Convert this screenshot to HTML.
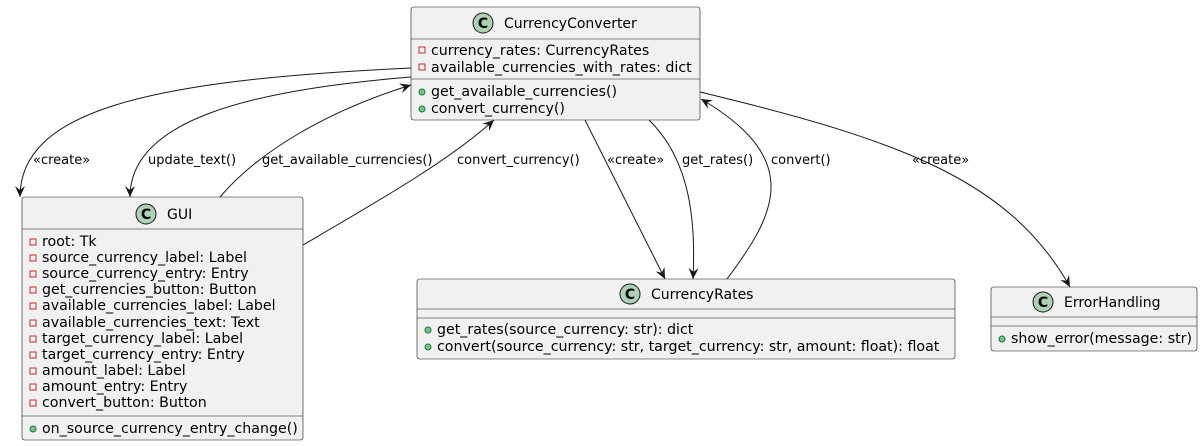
<!DOCTYPE html>
<html><head><meta charset="utf-8"><style>
html,body{margin:0;padding:0;background:#fff;}
svg{display:block;}
text{font-family:"DejaVu Sans","Liberation Sans",sans-serif;fill:#000;}
.t{font-size:14px;}
.m{font-size:14.2px;}
.l{font-size:13px;}
.box{fill:#f1f1f1;stroke:#181818;stroke-width:0.6;}
.div{stroke:#181818;stroke-width:0.6;}
.e{fill:none;stroke:#181818;stroke-width:1;}
.ci{fill:#add1b2;stroke:#181818;stroke-width:1;}
.priv{fill:none;stroke:#c82930;stroke-width:1;}
.pub{fill:#84be84;stroke:#038048;stroke-width:1;}
</style></head><body>
<svg width="1204" height="446" viewBox="0 0 1204 446" xmlns="http://www.w3.org/2000/svg">
<defs>
<marker id="a" viewBox="0 0 12 10" refX="11" refY="5" markerWidth="12" markerHeight="10" markerUnits="userSpaceOnUse" orient="auto">
<path d="M0,0 L11,5 L0,10 L4,5 Z" fill="#181818"/>
</marker>
</defs>

<path class="e" marker-end="url(#a)" d="M411,68 C150,80 20,110 20,197"/>
<path class="e" marker-end="url(#a)" d="M411,77 C250,90 130,120 130,197"/>
<path class="e" marker-end="url(#a)" d="M220,197 C260,150 330,110 411,85"/>
<path class="e" marker-end="url(#a)" d="M303,245 C380,200 450,160 494,120"/>
<path class="e" marker-end="url(#a)" d="M585,120 L665,279"/>
<path class="e" marker-end="url(#a)" d="M649,120 C690,160 696,220 693,279"/>
<path class="e" marker-end="url(#a)" d="M727,279 C775,215 805,160 701,99"/>
<path class="e" marker-end="url(#a)" d="M700,92 C900,140 1010,180 1070,287"/>

<text class="l" x="33" y="164">«create»</text>
<text class="l" x="148" y="164">update_text()</text>
<text class="l" x="262" y="164">get_available_currencies()</text>
<text class="l" x="457" y="164">convert_currency()</text>
<text class="l" x="607" y="164">«create»</text>
<text class="l" x="682" y="164">get_rates()</text>
<text class="l" x="771" y="164">convert()</text>
<text class="l" x="912" y="164">«create»</text>

<rect class="box" x="411" y="7" width="289" height="113" rx="2.5"/>
<line class="div" x1="411" y1="39" x2="700" y2="39"/>
<line class="div" x1="411" y1="79" x2="700" y2="79"/>
<circle class="ci" cx="483" cy="23" r="10"/>
<text class="t" x="483" y="28" text-anchor="middle" font-weight="bold">C</text>
<text class="t" x="504" y="28">CurrencyConverter</text>
<rect class="priv" x="419" y="47" width="6" height="6"/>
<text class="m" x="431" y="55">currency_rates: CurrencyRates</text>
<rect class="priv" x="419" y="64" width="6" height="6"/>
<text class="m" x="431" y="72">available_currencies_with_rates: dict</text>
<circle class="pub" cx="422" cy="92" r="3"/>
<text class="m" x="431" y="96">get_available_currencies()</text>
<circle class="pub" cx="422" cy="109" r="3"/>
<text class="m" x="431" y="113">convert_currency()</text>

<rect class="box" x="22" y="197" width="281" height="243" rx="2.5"/>
<line class="div" x1="22" y1="229" x2="303" y2="229"/>
<line class="div" x1="22" y1="416" x2="303" y2="416"/>
<circle class="ci" cx="146" cy="214" r="10"/>
<text class="t" x="146" y="219" text-anchor="middle" font-weight="bold">C</text>
<text class="t" x="167" y="219">GUI</text>
<g>
<rect class="priv" x="30" y="239" width="6" height="6"/><text class="m" x="42" y="246">root: Tk</text>
<rect class="priv" x="30" y="255" width="6" height="6"/><text class="m" x="42" y="262">source_currency_label: Label</text>
<rect class="priv" x="30" y="271" width="6" height="6"/><text class="m" x="42" y="278">source_currency_entry: Entry</text>
<rect class="priv" x="30" y="287" width="6" height="6"/><text class="m" x="42" y="294">get_currencies_button: Button</text>
<rect class="priv" x="30" y="303" width="6" height="6"/><text class="m" x="42" y="310">available_currencies_label: Label</text>
<rect class="priv" x="30" y="320" width="6" height="6"/><text class="m" x="42" y="327">available_currencies_text: Text</text>
<rect class="priv" x="30" y="336" width="6" height="6"/><text class="m" x="42" y="343">target_currency_label: Label</text>
<rect class="priv" x="30" y="352" width="6" height="6"/><text class="m" x="42" y="359">target_currency_entry: Entry</text>
<rect class="priv" x="30" y="368" width="6" height="6"/><text class="m" x="42" y="375">amount_label: Label</text>
<rect class="priv" x="30" y="384" width="6" height="6"/><text class="m" x="42" y="391">amount_entry: Entry</text>
<rect class="priv" x="30" y="400" width="6" height="6"/><text class="m" x="42" y="407">convert_button: Button</text>
</g>
<circle class="pub" cx="33" cy="429" r="3"/>
<text class="m" x="42" y="433">on_source_currency_entry_change()</text>

<rect class="box" x="417" y="279" width="538" height="80" rx="2.5"/>
<line class="div" x1="417" y1="309" x2="955" y2="309"/>
<line class="div" x1="417" y1="318" x2="955" y2="318"/>
<circle class="ci" cx="630" cy="294" r="10"/>
<text class="t" x="630" y="299" text-anchor="middle" font-weight="bold">C</text>
<text class="t" x="651" y="299">CurrencyRates</text>
<circle class="pub" cx="428" cy="330" r="3"/>
<text class="m" x="437" y="334">get_rates(source_currency: str): dict</text>
<circle class="pub" cx="428" cy="347" r="3"/>
<text class="m" x="437" y="351">convert(source_currency: str, target_currency: str, amount: float): float</text>

<rect class="box" x="991" y="287" width="206" height="64" rx="2.5"/>
<line class="div" x1="991" y1="317" x2="1197" y2="317"/>
<line class="div" x1="991" y1="326" x2="1197" y2="326"/>
<circle class="ci" cx="1043" cy="302" r="10"/>
<text class="t" x="1043" y="307" text-anchor="middle" font-weight="bold">C</text>
<text class="t" x="1064" y="307">ErrorHandling</text>
<circle class="pub" cx="1002" cy="339" r="3"/>
<text class="m" x="1011" y="343">show_error(message: str)</text>
</svg>
</body></html>
